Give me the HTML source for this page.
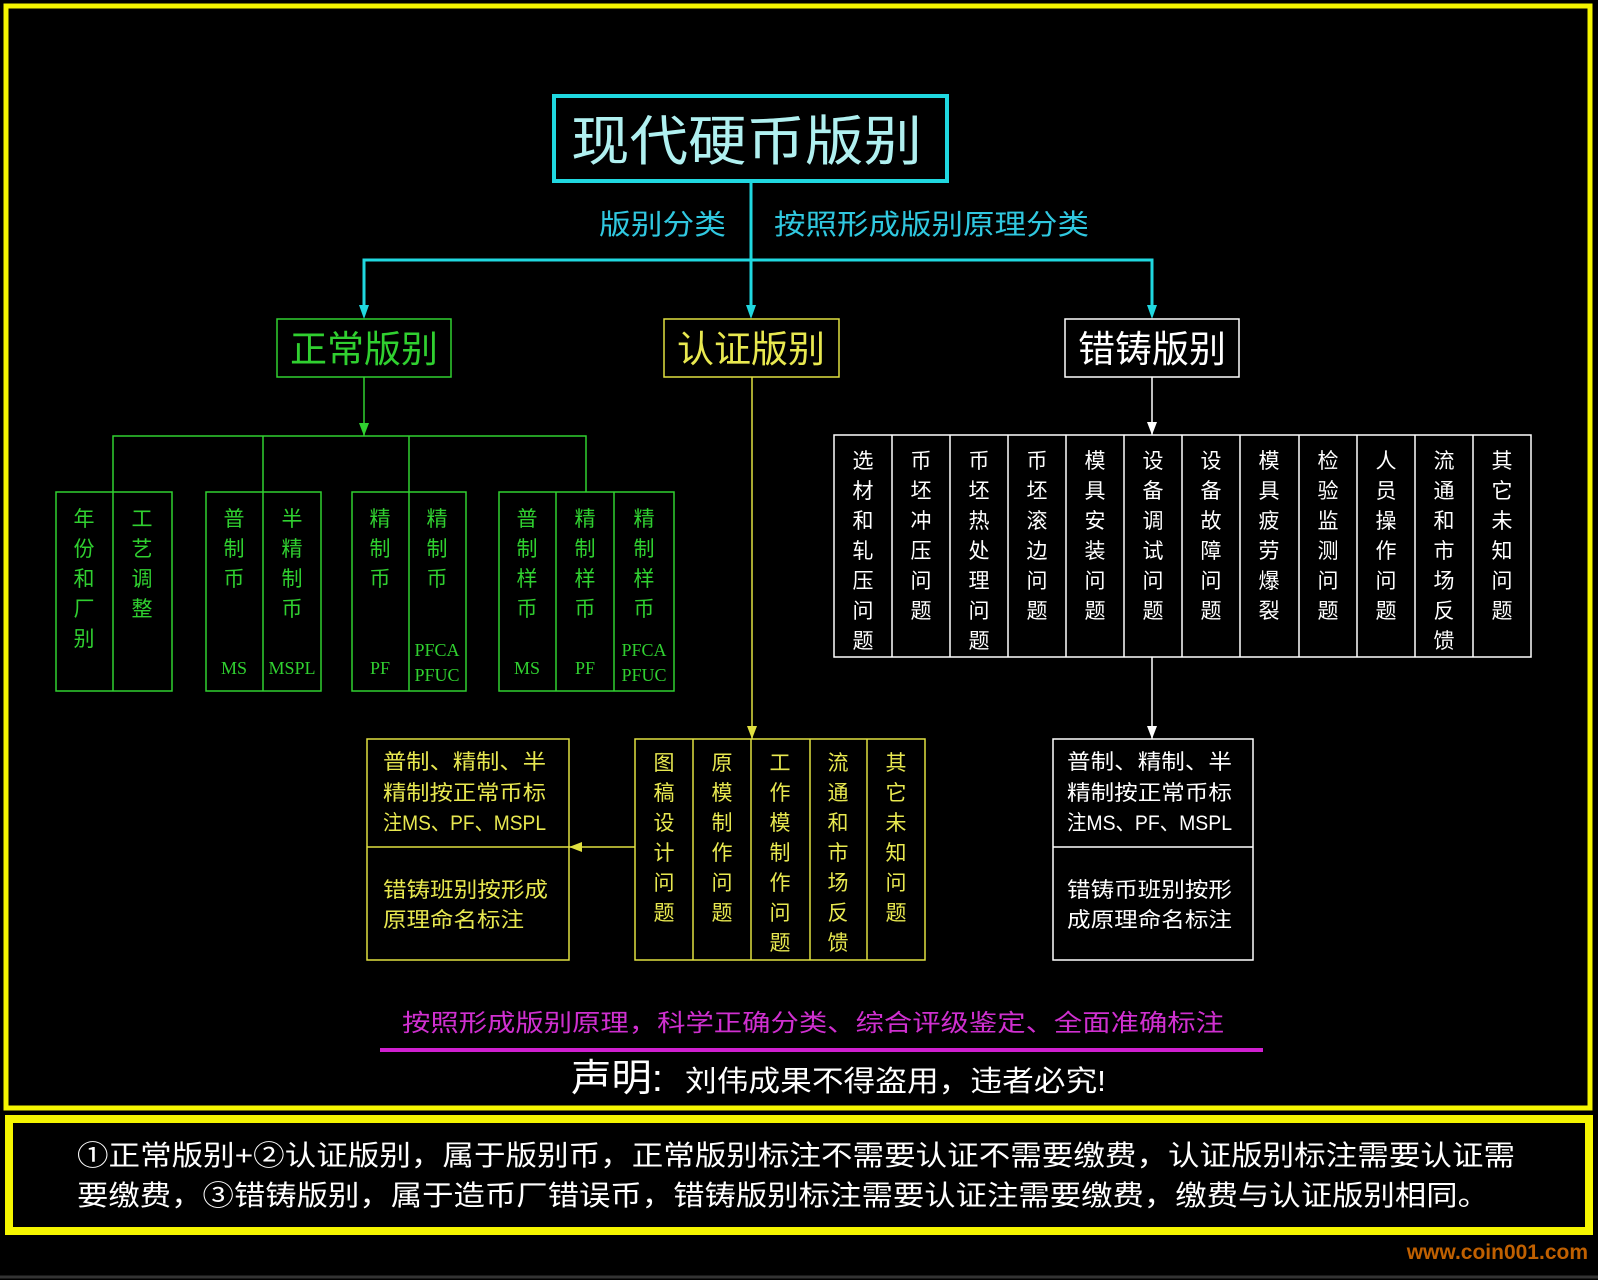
<!DOCTYPE html>
<html><head><meta charset="utf-8"><style>
html,body{margin:0;padding:0;background:#000;}
svg{display:block;}
text{font-family:"Liberation Sans","Noto Sans CJK SC",sans-serif;}
.v{font-size:21px;text-anchor:middle;}
.c{font-family:"Liberation Serif","Noto Sans CJK SC",serif;font-size:18px;text-anchor:middle;}
</style></head><body>
<svg width="1598" height="1280" viewBox="0 0 1598 1280" xmlns="http://www.w3.org/2000/svg">
<rect width="1598" height="1280" fill="#000"/>
<rect x="6" y="6" width="1584" height="1102" fill="none" stroke="#f5f500" stroke-width="5"/>
<rect x="9" y="1119" width="1580" height="112" fill="none" stroke="#f5f500" stroke-width="8"/>
<line x1="0" y1="1277" x2="1598" y2="1277" stroke="#333" stroke-width="3"/>
<text x="1588" y="1259" text-anchor="end" font-size="21" font-weight="bold" fill="#c06000" style="font-family:'Liberation Sans',sans-serif">www.coin001.com</text>

<rect x="554" y="96" width="393" height="85" fill="none" stroke="#20d8e0" stroke-width="4"/>
<text x="571" y="160" font-size="54" fill="#b0f0f0" textLength="351" lengthAdjust="spacingAndGlyphs">现代硬币版别</text>
<line x1="751" y1="181" x2="751" y2="315" stroke="#20d8e0" stroke-width="3"/>
<text x="599" y="234" font-size="28" fill="#30c8e0" textLength="127" lengthAdjust="spacingAndGlyphs">版别分类</text>
<text x="774" y="234" font-size="28" fill="#30c8e0" textLength="315" lengthAdjust="spacingAndGlyphs">按照形成版别原理分类</text>
<polyline points="364,315 364,260 1152,260 1152,315" fill="none" stroke="#20d8e0" stroke-width="3"/>
<g fill="#20d8e0"><polygon points="359,305 364,319 369,305"/><polygon points="746,305 751,319 756,305"/><polygon points="1147,305 1152,319 1157,305"/></g>

<rect x="277" y="319" width="174" height="58" fill="none" stroke="#30d030" stroke-width="1.5"/>
<text x="364" y="362" text-anchor="middle" font-size="37" fill="#30d030">正常版别</text>
<rect x="664" y="319" width="175" height="58" fill="none" stroke="#e0e040" stroke-width="1.5"/>
<text x="751" y="362" text-anchor="middle" font-size="37" fill="#e8e850">认证版别</text>
<rect x="1065" y="319" width="174" height="58" fill="none" stroke="#fff" stroke-width="1.5"/>
<text x="1152" y="362" text-anchor="middle" font-size="37" fill="#fff">错铸版别</text>

<g stroke="#30d030" stroke-width="1.5" fill="none">
<line x1="364" y1="377" x2="364" y2="436"/>
<polyline points="113,492 113,436 586,436 586,492"/>
<line x1="263" y1="436" x2="263" y2="492"/>
<line x1="409" y1="436" x2="409" y2="492"/>
<rect x="56" y="492" width="116" height="199"/><line x1="113" y1="492" x2="113" y2="691"/>
<rect x="206" y="492" width="115" height="199"/><line x1="263" y1="492" x2="263" y2="691"/>
<rect x="352" y="492" width="114" height="199"/><line x1="409" y1="492" x2="409" y2="691"/>
<rect x="499" y="492" width="175" height="199"/><line x1="556" y1="492" x2="556" y2="691"/><line x1="614" y1="492" x2="614" y2="691"/>
</g>
<polygon points="359,423 364,436 369,423" fill="#30d030"/>
<g fill="#30d030">
<text class="v" x="84 84 84 84 84" y="526 556 586 616 646">年份和厂别</text>
<text class="v" x="142 142 142 142" y="526 556 586 616">工艺调整</text>
<text class="v" x="234 234 234" y="526 556 586">普制币</text>
<text class="v" x="292 292 292 292" y="526 556 586 616">半精制币</text>
<text class="v" x="380 380 380" y="526 556 586">精制币</text>
<text class="v" x="437 437 437" y="526 556 586">精制币</text>
<text class="v" x="527 527 527 527" y="526 556 586 616">普制样币</text>
<text class="v" x="585 585 585 585" y="526 556 586 616">精制样币</text>
<text class="v" x="644 644 644 644" y="526 556 586 616">精制样币</text>
<text class="c" x="234" y="674">MS</text>
<text class="c" x="292" y="674">MSPL</text>
<text class="c" x="380" y="674">PF</text>
<text class="c" x="437" y="656">PFCA</text><text class="c" x="437" y="681">PFUC</text>
<text class="c" x="527" y="674">MS</text>
<text class="c" x="585" y="674">PF</text>
<text class="c" x="644" y="656">PFCA</text><text class="c" x="644" y="681">PFUC</text>
</g>

<g stroke="#e0e040" stroke-width="1.5" fill="none">
<line x1="752" y1="377" x2="752" y2="739"/>
<rect x="635" y="739" width="290" height="221"/>
<line x1="693" y1="739" x2="693" y2="960"/><line x1="751" y1="739" x2="751" y2="960"/><line x1="810" y1="739" x2="810" y2="960"/><line x1="867" y1="739" x2="867" y2="960"/>
<rect x="367" y="739" width="202" height="221"/>
<line x1="367" y1="847" x2="569" y2="847"/>
<line x1="569" y1="847" x2="635" y2="847"/>
</g>
<polygon points="747,726 752,739 757,726" fill="#e0e040"/>
<polygon points="582,842 569,847 582,852" fill="#e0e040"/>
<g fill="#e8e850">
<text class="v" x="664 664 664 664 664 664" y="770 800 830 860 890 920">图稿设计问题</text>
<text class="v" x="722 722 722 722 722 722" y="770 800 830 860 890 920">原模制作问题</text>
<text class="v" x="780 780 780 780 780 780 780" y="770 800 830 860 890 920 950">工作模制作问题</text>
<text class="v" x="838 838 838 838 838 838 838" y="770 800 830 860 890 920 950">流通和市场反馈</text>
<text class="v" x="896 896 896 896 896 896" y="770 800 830 860 890 920">其它未知问题</text>
<g font-size="21">
<text x="383" y="769" textLength="163" lengthAdjust="spacingAndGlyphs">普制、精制、半</text>
<text x="383" y="800" textLength="163" lengthAdjust="spacingAndGlyphs">精制按正常币标</text>
<text x="383" y="830" textLength="163" lengthAdjust="spacingAndGlyphs">注MS、PF、MSPL</text>
<text x="383" y="897" textLength="165" lengthAdjust="spacingAndGlyphs">错铸班别按形成</text>
<text x="383" y="927" textLength="141" lengthAdjust="spacingAndGlyphs">原理命名标注</text>
</g>
</g>

<g stroke="#fff" stroke-width="1.5" fill="none">
<line x1="1152" y1="377" x2="1152" y2="435"/>
<rect x="834" y="435" width="697" height="222"/>
<line x1="892" y1="435" x2="892" y2="657"/><line x1="950" y1="435" x2="950" y2="657"/><line x1="1008" y1="435" x2="1008" y2="657"/><line x1="1066" y1="435" x2="1066" y2="657"/><line x1="1124" y1="435" x2="1124" y2="657"/><line x1="1182" y1="435" x2="1182" y2="657"/><line x1="1240" y1="435" x2="1240" y2="657"/><line x1="1299" y1="435" x2="1299" y2="657"/><line x1="1357" y1="435" x2="1357" y2="657"/><line x1="1415" y1="435" x2="1415" y2="657"/><line x1="1473" y1="435" x2="1473" y2="657"/>
<line x1="1152" y1="657" x2="1152" y2="739"/>
<rect x="1053" y="739" width="200" height="221"/>
<line x1="1053" y1="847" x2="1253" y2="847"/>
</g>
<polygon points="1147,422 1152,435 1157,422" fill="#fff"/>
<polygon points="1147,726 1152,739 1157,726" fill="#fff"/>
<g fill="#fff">
<text class="v" x="863 863 863 863 863 863 863" y="468 498 528 558 588 618 648">选材和轧压问题</text>
<text class="v" x="921 921 921 921 921 921" y="468 498 528 558 588 618">币坯冲压问题</text>
<text class="v" x="979 979 979 979 979 979 979" y="468 498 528 558 588 618 648">币坯热处理问题</text>
<text class="v" x="1037 1037 1037 1037 1037 1037" y="468 498 528 558 588 618">币坯滚边问题</text>
<text class="v" x="1095 1095 1095 1095 1095 1095" y="468 498 528 558 588 618">模具安装问题</text>
<text class="v" x="1153 1153 1153 1153 1153 1153" y="468 498 528 558 588 618">设备调试问题</text>
<text class="v" x="1211 1211 1211 1211 1211 1211" y="468 498 528 558 588 618">设备故障问题</text>
<text class="v" x="1269 1269 1269 1269 1269 1269" y="468 498 528 558 588 618">模具疲劳爆裂</text>
<text class="v" x="1328 1328 1328 1328 1328 1328" y="468 498 528 558 588 618">检验监测问题</text>
<text class="v" x="1386 1386 1386 1386 1386 1386" y="468 498 528 558 588 618">人员操作问题</text>
<text class="v" x="1444 1444 1444 1444 1444 1444 1444" y="468 498 528 558 588 618 648">流通和市场反馈</text>
<text class="v" x="1502 1502 1502 1502 1502 1502" y="468 498 528 558 588 618">其它未知问题</text>
<g font-size="21">
<text x="1067" y="769" textLength="165" lengthAdjust="spacingAndGlyphs">普制、精制、半</text>
<text x="1067" y="800" textLength="165" lengthAdjust="spacingAndGlyphs">精制按正常币标</text>
<text x="1067" y="830" textLength="165" lengthAdjust="spacingAndGlyphs">注MS、PF、MSPL</text>
<text x="1067" y="897" textLength="165" lengthAdjust="spacingAndGlyphs">错铸币班别按形</text>
<text x="1067" y="927" textLength="165" lengthAdjust="spacingAndGlyphs">成原理命名标注</text>
</g>
</g>

<text x="813" y="1031" text-anchor="middle" font-size="24" fill="#d030d0" textLength="822" lengthAdjust="spacingAndGlyphs">按照形成版别原理，科学正确分类、综合评级鉴定、全面准确标注</text>
<line x1="380" y1="1050" x2="1263" y2="1050" stroke="#d020d0" stroke-width="4"/>
<text x="571" y="1091" font-size="38" fill="#fff" textLength="92" lengthAdjust="spacingAndGlyphs">声明:</text>
<text x="685" y="1091" font-size="29" fill="#fff" textLength="421" lengthAdjust="spacingAndGlyphs">刘伟成果不得盗用，违者必究!</text>

<text x="77" y="1165" font-size="28" fill="#fff" textLength="1438" lengthAdjust="spacingAndGlyphs">①正常版别+②认证版别，属于版别币，正常版别标注不需要认证不需要缴费，认证版别标注需要认证需</text>
<text x="77" y="1205" font-size="28" fill="#fff" textLength="1412" lengthAdjust="spacingAndGlyphs">要缴费，③错铸版别，属于造币厂错误币，错铸版别标注需要认证注需要缴费，缴费与认证版别相同。</text>
</svg>
</body></html>
